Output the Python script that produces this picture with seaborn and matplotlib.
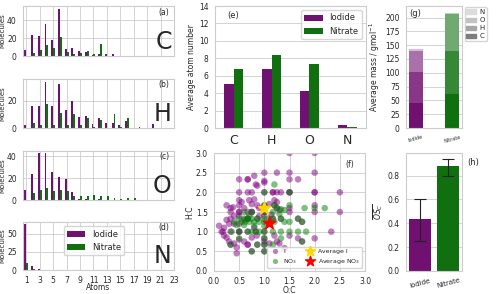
import numpy as np
import pandas as pd
import matplotlib
matplotlib.use("Agg")
import matplotlib.pyplot as plt
from matplotlib.patches import Patch
import seaborn as sns

# Atom count distributions (number of molecules per atom count 1..20)
atoms = list(range(1, 21))
c_iodide = [7, 24, 22, 36, 18, 53, 8, 9, 6, 5, 1, 2, 2, 2, 0, 0, 0, 0, 0, 0]
c_nitrate = [0, 3, 7, 12, 9, 21, 4, 2, 3, 6, 2, 14, 0, 0, 0, 0, 0, 0, 0, 0]
h_iodide = [2, 16, 16, 34, 16, 32, 13, 20, 8, 9, 3, 7, 4, 4, 2, 5, 0, 1, 0, 3]
h_nitrate = [0, 4, 2, 18, 2, 11, 2, 10, 2, 7, 1, 6, 0, 10, 1, 7, 0, 0, 0, 0]
o_iodide = [9, 24, 43, 43, 26, 21, 19, 7, 1, 1, 0, 1, 0, 0, 0, 0, 0, 0, 0, 0]
o_nitrate = [0, 6, 9, 11, 8, 9, 8, 4, 4, 4, 5, 4, 4, 2, 1, 2, 2, 0, 0, 0]
n_iodide = [63, 6, 1, 0, 0, 0, 0, 0, 0, 0, 0, 0, 0, 0, 0, 0, 0, 0, 0, 0]
n_nitrate = [10, 1, 0, 0, 0, 0, 0, 0, 0, 0, 0, 0, 0, 0, 0, 0, 0, 0, 0, 0]

# Average atom numbers
elements = ["C", "H", "O", "N"]
avg_iodide = [5.1, 6.8, 4.3, 0.4]
avg_nitrate = [6.8, 8.4, 7.3, 0.1]

# Average mass contributions (bottom to top), g/mol
mass_levels = ["C", "H", "O", "N"]
mass_iodide = [45, 57, 38, 3]
mass_nitrate = [62, 78, 67, 2]

# Average carbon oxidation state
ions = ["Iodide", "Nitrate"]
osc_mean = [0.44, 0.88]
osc_low = [0.25, 0.80]
osc_high = [0.60, 0.94]

# Van Krevelen points (O:C, H:C)
iodide_points = [
    (1.5, 3.0), (2.0, 3.0),
    (0.5, 2.33), (0.67, 2.33), (0.67, 2.33), (0.8, 2.42), (1.0, 2.5), (1.25, 2.5), (1.5, 2.5), (2.0, 2.5),
    (1.0, 2.29), (1.0, 2.25), (0.83, 2.2), (0.86, 2.17), (1.5, 2.33), (1.67, 2.33),
    (0.5, 2.0), (0.67, 2.0), (0.75, 2.0), (1.17, 2.0), (1.17, 2.0), (1.25, 2.0), (1.33, 2.0), (1.5, 2.0),
    (2.0, 2.0), (2.0, 2.0), (2.5, 2.0),
    (1.2, 1.8), (1.25, 1.75), (0.25, 1.67), (0.33, 1.6), (0.38, 1.62), (0.5, 1.8), (0.55, 1.75), (0.5, 1.67),
    (0.6, 1.6), (0.7, 1.8), (0.75, 1.7), (0.8, 1.82), (0.86, 1.67), (0.9, 1.6), (1.2, 1.67), (1.25, 1.6),
    (1.3, 1.55), (1.5, 1.6), (1.5, 1.5), (2.0, 1.67), (2.0, 1.5), (2.5, 1.5),
    (0.33, 1.5), (0.5, 1.5), (0.5, 1.5), (0.67, 1.5), (0.75, 1.5), (1.0, 1.5), (1.14, 1.43),
    (0.25, 1.3), (0.33, 1.33), (0.4, 1.4), (0.5, 1.4), (0.6, 1.3), (0.67, 1.33),
    (0.1, 1.15), (0.15, 1.0), (0.18, 1.0), (0.2, 1.1), (0.3, 1.2), (0.4, 1.2), (0.5, 1.2),
    (0.2, 0.9), (0.25, 0.85), (0.3, 0.75), (0.4, 0.7), (0.45, 0.6), (0.45, 0.45), (0.5, 0.8), (0.6, 0.75),
    (0.67, 0.67), (0.67, 0.67), (0.75, 0.85), (0.85, 0.9), (1.0, 0.83), (1.0, 0.75), (1.1, 0.7), (1.2, 0.9),
    (1.25, 0.75), (1.3, 0.7), (1.4, 0.58), (1.5, 0.9), (1.67, 0.83), (2.0, 0.83), (2.33, 1.0), (1.0, 1.0),
    (0.5, 1.0), (0.33, 1.0), (0.8, 1.1), (1.0, 1.67), (1.1, 1.7), (0.9, 1.4), (1.0, 1.4),
    (0.75, 1.5), (0.67, 1.33), (0.86, 1.33), (1.33, 1.33), (1.67, 1.33), (1.75, 1.25), (0.5, 1.0),
    (0.67, 1.0), (0.83, 1.0), (0.86, 0.67), (1.0, 0.67), (0.75, 0.5), (1.0, 0.5), (1.75, 0.75),
    (0.33, 0.67), (1.0, 2.0), (1.5, 2.0), (1.17, 1.33),
]
nitrate_points = [
    (1.2, 2.2), (1.0, 2.0), (1.5, 2.0), (1.0, 1.67), (1.2, 1.67), (1.5, 1.67), (1.8, 1.6), (2.2, 1.6),
    (2.0, 1.6), (1.25, 1.6), (1.33, 1.57), (1.4, 1.55),
    (0.6, 1.5), (0.75, 1.5), (1.0, 1.5), (1.17, 1.5), (1.3, 1.45),
    (0.5, 1.33), (0.6, 1.33), (0.67, 1.33), (0.75, 1.33), (0.86, 1.33), (1.0, 1.33), (1.1, 1.33),
    (1.17, 1.33), (1.33, 1.33), (1.67, 1.33), (0.7, 1.4),
    (0.4, 1.25), (0.55, 1.25), (0.62, 1.25), (0.7, 1.25), (0.8, 1.25), (0.9, 1.25), (1.0, 1.25),
    (1.1, 1.2), (1.2, 1.25), (1.4, 1.25), (1.5, 1.25), (1.75, 1.25),
    (0.45, 1.17), (0.6, 1.17), (0.8, 1.15), (1.0, 1.14),
    (0.35, 1.0), (0.5, 1.0), (0.67, 1.0), (0.75, 1.0), (0.83, 1.0), (0.9, 1.0), (1.0, 1.0), (1.17, 1.0),
    (1.33, 1.0), (1.5, 1.0), (1.67, 1.0), (1.83, 1.0),
    (0.33, 0.67), (0.86, 0.67), (1.0, 0.67), (1.17, 0.67), (1.75, 0.75), (0.75, 0.5), (1.0, 0.5),
    (0.5, 0.83), (1.0, 0.83), (1.33, 0.83),
]
avg_i = (0.99, 1.6)
avg_no3 = (1.1, 1.23)

purple = "#800080"
green = "#008000"

sns.set_style("whitegrid")
plt.rcParams["font.family"] = ["DejaVu Sans"]
plt.rcParams["font.size"] = 6
plt.rcParams["axes.edgecolor"] = ".8"
plt.rcParams["axes.linewidth"] = 0.8
plt.rcParams["grid.linewidth"] = 0.6


def box(l, t, r, b):
    # pixel box -> figure fraction
    return [l / 500, 1 - b / 294, (r - l) / 500, (b - t) / 294]


fig = plt.figure(figsize=(5, 2.94), dpi=100)

# Panels (a)-(d): atom distributions
hist_panels = [
    ("C", "(a)", c_iodide, c_nitrate, (6, 56), [0, 20, 40], 56),
    ("H", "(b)", h_iodide, h_nitrate, (79, 128), [0, 20], 36),
    ("O", "(c)", o_iodide, o_nitrate, (151, 200), [0, 20, 40], 45),
    ("N", "(d)", n_iodide, n_nitrate, (222, 270), [0, 25, 50], 66),
]
for elem, tag, iod, nit, (top, bot), yt, ymax in hist_panels:
    ax = fig.add_axes(box(23, top, 174, bot))
    df = pd.DataFrame({
        "atoms": atoms * 2,
        "count": iod + nit,
        "ion": ["Iodide"] * len(atoms) + ["Nitrate"] * len(atoms),
    })
    sns.barplot(data=df, x="atoms", y="count", hue="ion", native_scale=True,
                palette=[purple, green], width=0.56, linewidth=0, ax=ax, legend=(elem == "N"))
    ax.set_xlim(0.5, 23)
    ax.set_ylim(0, ymax)
    ax.set_xticks(range(1, 24, 2))
    ax.set_yticks(yt)
    ax.set_ylabel("Molecules", fontsize=5, labelpad=1)
    ax.tick_params(labelsize=5.5, pad=1)
    ax.text(0.97, 0.88, tag, transform=ax.transAxes, ha="right", va="center", fontsize=5.5)
    ax.text(0.985, 0.04, elem, transform=ax.transAxes, ha="right", va="bottom", fontsize=17)
    if elem == "N":
        ax.set_xlabel("Atoms", fontsize=5.5, va="top")
        ax.xaxis.set_label_coords(0.5, -0.27)
        sns.move_legend(ax, "upper center", bbox_to_anchor=(0.47, 1.0), title=None,
                        fontsize=6, frameon=True, handlelength=2.2)
    else:
        ax.set_xlabel("")
        ax.set_xticklabels([])

# Panel (e): average atom numbers
ax = fig.add_axes(box(215, 6, 366, 128))
df_e = pd.DataFrame({
    "element": elements * 2,
    "value": avg_iodide + avg_nitrate,
    "ion": ["Iodide"] * 4 + ["Nitrate"] * 4,
})
sns.barplot(data=df_e, x="element", y="value", hue="ion", palette=[purple, green],
            width=0.5, linewidth=0, ax=ax)
ax.set_ylim(0, 14)
ax.set_yticks(range(0, 15, 2))
ax.set_xlabel("")
ax.set_ylabel("Average atom number", fontsize=5.5, labelpad=2)
ax.tick_params(axis="y", labelsize=5.5, pad=1)
ax.tick_params(axis="x", labelsize=9, pad=1)
ax.text(0.08, 0.9, "(e)", transform=ax.transAxes, fontsize=6)
sns.move_legend(ax, "upper right", title=None, fontsize=6, frameon=True, handlelength=2.2)

# Panel (f): van Krevelen
ax = fig.add_axes(box(214, 153, 365, 271))
df_f = pd.DataFrame({
    "OC": [p[0] for p in iodide_points] + [p[0] for p in nitrate_points],
    "HC": [p[1] for p in iodide_points] + [p[1] for p in nitrate_points],
    "ion": ["I"] * len(iodide_points) + ["NO$_3$"] * len(nitrate_points),
})
sns.scatterplot(data=df_f, x="OC", y="HC", hue="ion", palette=[purple, green], alpha=0.5,
                s=22, linewidth=0, ax=ax)
ax.scatter([avg_i[0]], [avg_i[1]], marker="*", s=90, color="gold", zorder=5, label="Average I")
ax.scatter([avg_no3[0]], [avg_no3[1]], marker="*", s=90, color="red", zorder=5,
           label="Average NO$_3$")
ax.set_xlim(0, 3)
ax.set_ylim(0, 3)
ax.set_xticks(np.arange(0, 3.01, 0.5))
ax.set_yticks(np.arange(0, 3.01, 0.5))
ax.set_xlabel("O:C", fontsize=5.5, labelpad=0)
ax.set_ylabel("H:C", fontsize=5.5, labelpad=1)
ax.tick_params(labelsize=5.5, pad=1)
ax.text(0.93, 0.88, "(f)", transform=ax.transAxes, ha="right", fontsize=5.5)
ax.legend(loc="lower right", ncol=2, fontsize=4.5, frameon=True, handletextpad=0.3,
          columnspacing=1.0, borderpad=0.3, markerscale=0.8)

# Panel (g): average mass, stacked
ax = fig.add_axes(box(406, 6, 462, 128))
cum_i = np.cumsum(mass_iodide)
cum_n = np.cumsum(mass_nitrate)
shades_i = ["#800080", "#962896", "#b267b2", "#dcb6dc"]
shades_n = ["#008000", "#289428", "#67b367", "#b6dcb6"]
for k in reversed(range(len(mass_levels))):
    sns.barplot(x=ions, y=[cum_i[k], cum_n[k]], hue=ions, palette=[shades_i[k], shades_n[k]],
                width=0.38, linewidth=0, legend=False, ax=ax)
ax.set_xlim(-0.26, 1.26)
ax.set_ylim(0, 221)
ax.set_yticks(range(0, 201, 25))
ax.set_ylabel("Average mass / gmol$^{-1}$", fontsize=5.5, labelpad=2)
ax.tick_params(axis="y", labelsize=5.5, pad=1)
ax.tick_params(axis="x", labelsize=3.5, pad=1, labelrotation=15)
ax.text(0.06, 0.92, "(g)", transform=ax.transAxes, fontsize=6)
grays = {"N": "#dcdcdc", "O": "#c2c2c2", "H": "#a5a5a5", "C": "#7d7d7d"}
ax.legend(handles=[Patch(color=grays[e], label=e) for e in ["N", "O", "H", "C"]],
          loc="upper left", bbox_to_anchor=(1.02, 1.0), fontsize=5, frameon=True,
          handlelength=1.4, handleheight=0.6, borderpad=0.25, labelspacing=0.3,
          handletextpad=0.5, borderaxespad=0.2)

# Panel (h): oxidation state
ax = fig.add_axes(box(406, 153, 462, 271))
sns.barplot(x=ions, y=osc_mean, hue=ions, palette=[purple, green], linewidth=0,
            legend=False, ax=ax)
yerr = [np.array(osc_mean) - np.array(osc_low), np.array(osc_high) - np.array(osc_mean)]
ax.errorbar(range(len(ions)), osc_mean, yerr=yerr, fmt="none", ecolor="#222222",
            capsize=4, elinewidth=0.8, capthick=0.8)
ax.set_ylim(0, 0.99)
ax.set_yticks(np.arange(0, 0.81, 0.2))
ax.set_ylabel(r"$\overline{OS_C}$", fontsize=5.5, labelpad=2)
ax.tick_params(axis="y", labelsize=5.5, pad=1)
ax.tick_params(axis="x", labelsize=5, pad=1, labelrotation=15)
ax.text(1.1, 0.9, "(h)", transform=ax.transAxes, fontsize=6)

fig.savefig("out.png", dpi=100)
